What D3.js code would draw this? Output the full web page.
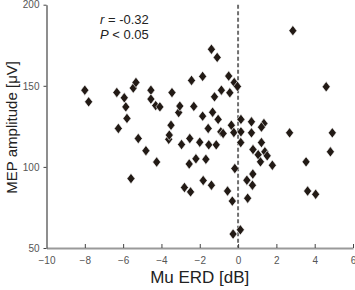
<!DOCTYPE html>
<html>
<head>
<meta charset="utf-8">
<script src="https://cdn.jsdelivr.net/npm/d3@7"></script>
<style>
  html, body { margin: 0; padding: 0; background: #fff; }
  svg { display: block; font-family: "Liberation Sans", Arial, Helvetica, sans-serif; }
</style>
</head>
<body>
<svg id="chart" width="355" height="290"></svg>
<script>
// Data (Mu ERD [dB], MEP amplitude [µV])
const erd = [
  -8.0, -7.8, -6.33, -5.94, -5.86, -5.80, -6.25, -5.47, -5.33, -4.55,
  -4.55, -4.3, -4.08, -5.21, -4.81, -4.25, -5.59, -3.45, -3.5, -3.62,
  -3.59, -3.1, -3.04, -2.31, -1.85, -1.33, -1.04, -1.56, -0.9, -0.78,
  -0.35, -0.22, 0.15, 0.15, 0.14, -2.95, -2.52, -2.0, -1.53, -1.14,
  -2.55, -2.2, -1.68, -0.17, -1.82, -2.8, -2.48, -1.39, -0.55, -0.3,
  -0.26, 0.12, 0.5, 0.46, 0.75, 0.77, 0.70, 1.35, 1.22, 0.70,
  1.22, 0.78, 1.05, 1.4, 1.52, 1.17, 1.79, 2.69, 2.86, 4.6,
  4.92, 4.82, 3.55, 3.63, 4.05, -1.39, -1.09, -2.43, -1.85, -0.49,
  -0.2, -0.03, -0.87, -1.23, -0.43
];
const mep = [
  147.3, 140.1, 145.9, 142.6, 137.0, 129.9, 123.7, 148.6, 152.1, 147.3,
  141.8, 137.8, 137.0, 117.5, 110.0, 103.0, 92.8, 145.8, 125.7, 117.0,
  119.6, 133.5, 137.5, 137.3, 131.3, 133.7, 129.3, 123.7, 121.6, 120.6,
  125.7, 121.2, 129.3, 121.6, 115.0, 113.8, 117.5, 115.2, 113.6, 113.6,
  101.8, 105.0, 104.7, 99.0, 91.6, 87.3, 84.6, 88.7, 85.1, 78.9,
  58.6, 61.2, 80.7, 91.8, 88.7, 95.6, 127.8, 126.8, 124.5, 121.0,
  115.0, 110.7, 107.5, 109.3, 106.8, 103.1, 101.0, 121.0, 184.0, 149.4,
  121.0, 109.3, 103.1, 85.1, 83.1, 172.5, 167.5, 153.3, 155.8, 156.0,
  152.0, 149.6, 147.3, 143.2, 145.7
];
const xTicks = [-10, -8, -6, -4, -2, 0, 2, 4, 6];
const yTicks = [50, 100, 150, 200];
const statLines = [["r", " = -0.32"], ["P", " < 0.05"]];
const xLabel = "Mu ERD [dB]";
const yLabel = "MEP amplitude [\u03bcV]";

const points = erd.map((v, i) => ({ x: v, y: mep[i] }));

const svg = d3.select("#chart");
const x = d3.scaleLinear().domain([-10, 6]).range([46.5, 353]);
const y = d3.scaleLinear().domain([50, 200]).range([248, 4.7]);

// dashed zero line
svg.append("line")
  .attr("x1", x(0)).attr("x2", x(0))
  .attr("y1", y(200)).attr("y2", y(50))
  .attr("stroke", "#6f6f6f").attr("stroke-width", 2)
  .attr("stroke-dasharray", "4,2.5");

// points
const diamond = "M0,-5.2L4,0L0,5.2L-4,0Z";
svg.append("g").selectAll("path")
  .data(points).join("path")
  .attr("d", diamond)
  .attr("transform", d => `translate(${x(d.x)},${y(d.y)})`)
  .attr("fill", "#221a15")
  .attr("stroke", "#ffffff")
  .attr("stroke-width", 0.6);

// x axis
const gx = svg.append("g")
  .attr("transform", `translate(0,${y(50)})`)
  .call(d3.axisBottom(x).tickValues(xTicks).tickSizeInner(-4).tickSizeOuter(0).tickPadding(9));
gx.select(".domain").attr("stroke", "#9a9a9a").attr("stroke-width", 2);
gx.selectAll(".tick line").attr("stroke", "#444");
gx.selectAll(".tick").filter(d => d === -10).select("line").remove();
gx.selectAll(".tick text").attr("font-size", 10).attr("fill", "#555")
  .attr("font-family", "Liberation Sans, Arial, sans-serif");

// y axis
const gy = svg.append("g")
  .attr("transform", `translate(${x(-10)},0)`)
  .call(d3.axisLeft(y).tickValues(yTicks).tickSizeInner(3).tickSizeOuter(0).tickPadding(4));
gy.select(".domain").attr("stroke", "#444").attr("stroke-width", 1.2);
gy.selectAll(".tick line").attr("stroke", "#444");
gy.selectAll(".tick text").attr("font-size", 10).attr("fill", "#555")
  .attr("font-family", "Liberation Sans, Arial, sans-serif");

// stats text
statLines.forEach((s, i) => {
  const t = svg.append("text")
    .attr("x", 100).attr("y", 24 + i * 15)
    .attr("font-size", 13).attr("fill", "#222");
  t.append("tspan").attr("font-style", "italic").text(s[0]);
  t.append("tspan").text(s[1]);
});

// axis labels
svg.append("text")
  .attr("x", (x(-10) + x(6)) / 2).attr("y", 283)
  .attr("text-anchor", "middle")
  .attr("font-size", 17).attr("fill", "#222")
  .text(xLabel);

svg.append("text")
  .attr("transform", `translate(17,${(y(50) + y(200)) / 2 + 1}) rotate(-90)`)
  .attr("text-anchor", "middle")
  .attr("font-size", 15).attr("fill", "#222")
  .text(yLabel);
</script>
</body>
</html>
